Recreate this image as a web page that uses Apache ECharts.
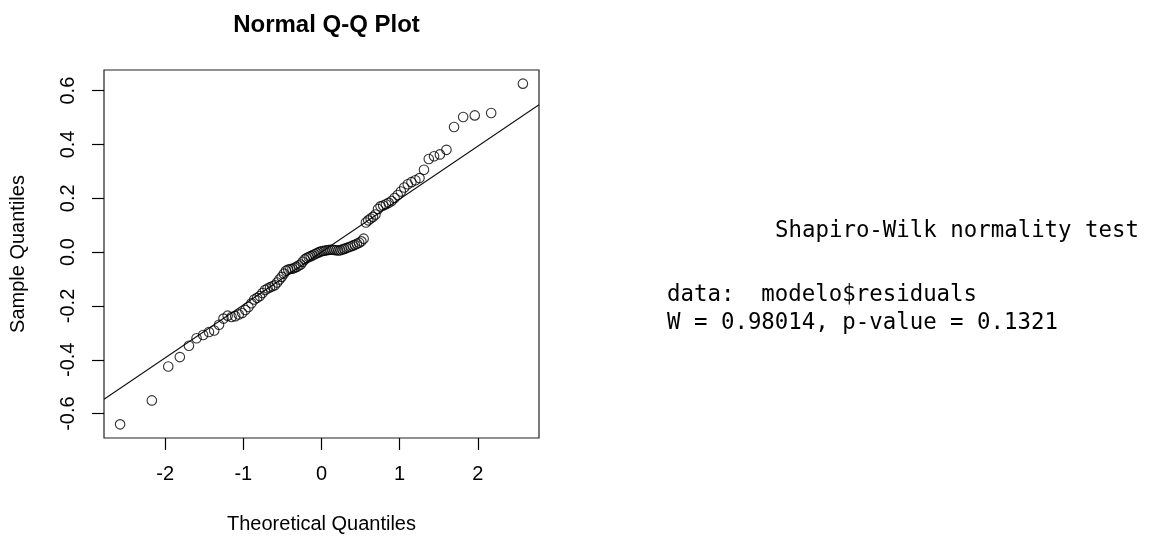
<!DOCTYPE html>
<html>
<head>
<meta charset="utf-8">
<title>Normal Q-Q Plot</title>
<script src="https://cdn.jsdelivr.net/npm/echarts@6.0.0/dist/echarts.min.js"></script>
<style>
  html, body { margin: 0; padding: 0; background: #ffffff; }
  #chart { width: 1149px; height: 537px; }
</style>
</head>
<body>
<div id="chart"></div>
<script>
// Theoretical normal quantiles for n = 100, p = (i - 0.5) / 100
const theoreticalQuantiles = [
  -2.5758, -2.1701, -1.9600, -1.8119, -1.6954, -1.5982, -1.5141, -1.4395, -1.3722, -1.3106,
  -1.2536, -1.2004, -1.1503, -1.1031, -1.0581, -1.0152, -0.9741, -0.9346, -0.8965, -0.8596,
  -0.8239, -0.7892, -0.7554, -0.7225, -0.6903, -0.6588, -0.6280, -0.5978, -0.5681, -0.5388,
  -0.5101, -0.4817, -0.4538, -0.4261, -0.3989, -0.3719, -0.3451, -0.3186, -0.2924, -0.2663,
  -0.2404, -0.2147, -0.1891, -0.1637, -0.1383, -0.1130, -0.0878, -0.0627, -0.0376, -0.0125,
   0.0125,  0.0376,  0.0627,  0.0878,  0.1130,  0.1383,  0.1637,  0.1891,  0.2147,  0.2404,
   0.2663,  0.2924,  0.3186,  0.3451,  0.3719,  0.3989,  0.4261,  0.4538,  0.4817,  0.5101,
   0.5388,  0.5681,  0.5978,  0.6280,  0.6588,  0.6903,  0.7225,  0.7554,  0.7892,  0.8239,
   0.8596,  0.8965,  0.9346,  0.9741,  1.0152,  1.0581,  1.1031,  1.1503,  1.2004,  1.2536,
   1.3106,  1.3722,  1.4395,  1.5141,  1.5982,  1.6954,  1.8119,  1.9600,  2.1701,  2.5758
];

// Sorted model residuals
const sampleQuantiles = [
  -0.640, -0.551, -0.425, -0.390, -0.348, -0.320, -0.308, -0.297, -0.291, -0.270,
  -0.247, -0.236, -0.241, -0.238, -0.232, -0.226, -0.215, -0.204, -0.190, -0.176,
  -0.170, -0.163, -0.152, -0.141, -0.135, -0.131, -0.127, -0.123, -0.113, -0.102,
  -0.092, -0.080, -0.069, -0.065, -0.063, -0.062, -0.058, -0.055, -0.050, -0.046,
  -0.036, -0.027, -0.022, -0.018, -0.015, -0.012, -0.008, -0.004, -0.001,  0.002,
   0.004,  0.005,  0.007,  0.008,  0.009,  0.009,  0.008,  0.007,  0.006,  0.007,
   0.010,  0.012,  0.015,  0.018,  0.021,  0.024,  0.027,  0.031,  0.035,  0.040,
   0.050,  0.110,  0.118,  0.125,  0.131,  0.140,  0.160,  0.170,  0.173,  0.178,
   0.183,  0.190,  0.201,  0.212,  0.225,  0.240,  0.252,  0.260,  0.267,  0.275,
   0.306,  0.346,  0.356,  0.363,  0.380,  0.465,  0.502,  0.508,  0.517,  0.626
];

const xTicks = [-2, -1, 0, 1, 2];
const yTicks = [-0.6, -0.4, -0.2, 0.0, 0.2, 0.4, 0.6];

const plotTitle = 'Normal Q-Q Plot';
const xTitle = 'Theoretical Quantiles';
const yTitle = 'Sample Quantiles';

const testHeader = 'Shapiro-Wilk normality test';
const testData = 'data:  modelo$residuals';
const testResult = 'W = 0.98014, p-value = 0.1321';

// Axis limits: data range padded by 4% on each side
function padRange(vals) {
  const lo = Math.min.apply(null, vals), hi = Math.max.apply(null, vals);
  const pad = (hi - lo) * 0.04;
  return [lo - pad, hi + pad];
}
// Type-7 sample quantile
function quantile(sorted, p) {
  const h = (sorted.length - 1) * p;
  const lo = Math.floor(h);
  return sorted[lo] + (h - lo) * (sorted[Math.min(lo + 1, sorted.length - 1)] - sorted[lo]);
}

const xLim = padRange(theoreticalQuantiles);
const yLim = padRange(sampleQuantiles);

// Reference line through the first and third quartiles
const sortedY = sampleQuantiles.slice().sort((a, b) => a - b);
const q1 = quantile(sortedY, 0.25), q3 = quantile(sortedY, 0.75);
const z = 0.6744898;
const slope = (q3 - q1) / (2 * z);
const intercept = q1 + slope * z;
const refLine = [
  [xLim[0], intercept + slope * xLim[0]],
  [xLim[1], intercept + slope * xLim[1]]
];

const points = theoreticalQuantiles.map((x, i) => [x, sampleQuantiles[i]]);

const sans = '"Liberation Sans", Arial, Helvetica, sans-serif';
const mono = '"DejaVu Sans Mono", "Liberation Mono", monospace';

const chart = echarts.init(document.getElementById('chart'), null, { renderer: 'canvas' });

chart.setOption({
  animation: false,
  backgroundColor: '#ffffff',
  title: {
    text: plotTitle,
    left: 321.5,
    top: 8,
    textAlign: 'center',
    textStyle: { fontFamily: sans, fontSize: 24, fontWeight: 'bold', color: '#000' }
  },
  grid: {
    left: 104, top: 70, width: 435, height: 368,
    show: true,
    backgroundColor: 'transparent',
    borderColor: '#222',
    borderWidth: 1.2,
    containLabel: false,
    outerBoundsMode: 'none'
  },
  xAxis: {
    type: 'value',
    position: 'bottom',
    min: xLim[0],
    max: xLim[1],
    axisLine: { show: false, onZero: false },
    splitLine: { show: false },
    axisTick: {
      show: true,
      customValues: xTicks,
      length: 12,
      lineStyle: { color: '#000', width: 1.2 }
    },
    axisLabel: {
      customValues: xTicks,
      margin: 26,
      fontFamily: sans,
      fontSize: 20,
      color: '#000',
      formatter: v => String(v)
    },
    name: xTitle,
    nameLocation: 'middle',
    nameGap: 76,
    nameTextStyle: { fontFamily: sans, fontSize: 20, color: '#000' }
  },
  yAxis: {
    type: 'value',
    position: 'left',
    min: yLim[0],
    max: yLim[1],
    axisLine: { show: false, onZero: false },
    splitLine: { show: false },
    axisTick: {
      show: true,
      customValues: yTicks,
      length: 12,
      lineStyle: { color: '#000', width: 1.2 }
    },
    axisLabel: {
      customValues: yTicks,
      rotate: 90,
      margin: 26,
      fontFamily: sans,
      fontSize: 20,
      color: '#000',
      formatter: v => v.toFixed(1)
    },
    name: yTitle,
    nameLocation: 'middle',
    nameGap: 76,
    nameTextStyle: { fontFamily: sans, fontSize: 20, color: '#000' }
  },
  graphic: [
    {
      type: 'text', x: 775, y: 231, silent: true,
      style: { text: testHeader, font: '22.4px ' + mono, fill: '#000', align: 'left', verticalAlign: 'middle' }
    },
    {
      type: 'text', x: 667, y: 295, silent: true,
      style: { text: testData, font: '22.4px ' + mono, fill: '#000', align: 'left', verticalAlign: 'middle' }
    },
    {
      type: 'text', x: 667, y: 323, silent: true,
      style: { text: testResult, font: '22.4px ' + mono, fill: '#000', align: 'left', verticalAlign: 'middle' }
    }
  ],
  series: [
    {
      type: 'line',
      data: refLine,
      symbol: 'none',
      silent: true,
      clip: true,
      lineStyle: { color: '#111', width: 1.1 },
      z: 1
    },
    {
      type: 'scatter',
      data: points,
      symbol: 'circle',
      symbolSize: 9.5,
      silent: true,
      itemStyle: { color: 'rgba(0,0,0,0)', borderColor: '#000', borderWidth: 1.1 },
      emphasis: { disabled: true },
      z: 2
    }
  ]
});
</script>
</body>
</html>
